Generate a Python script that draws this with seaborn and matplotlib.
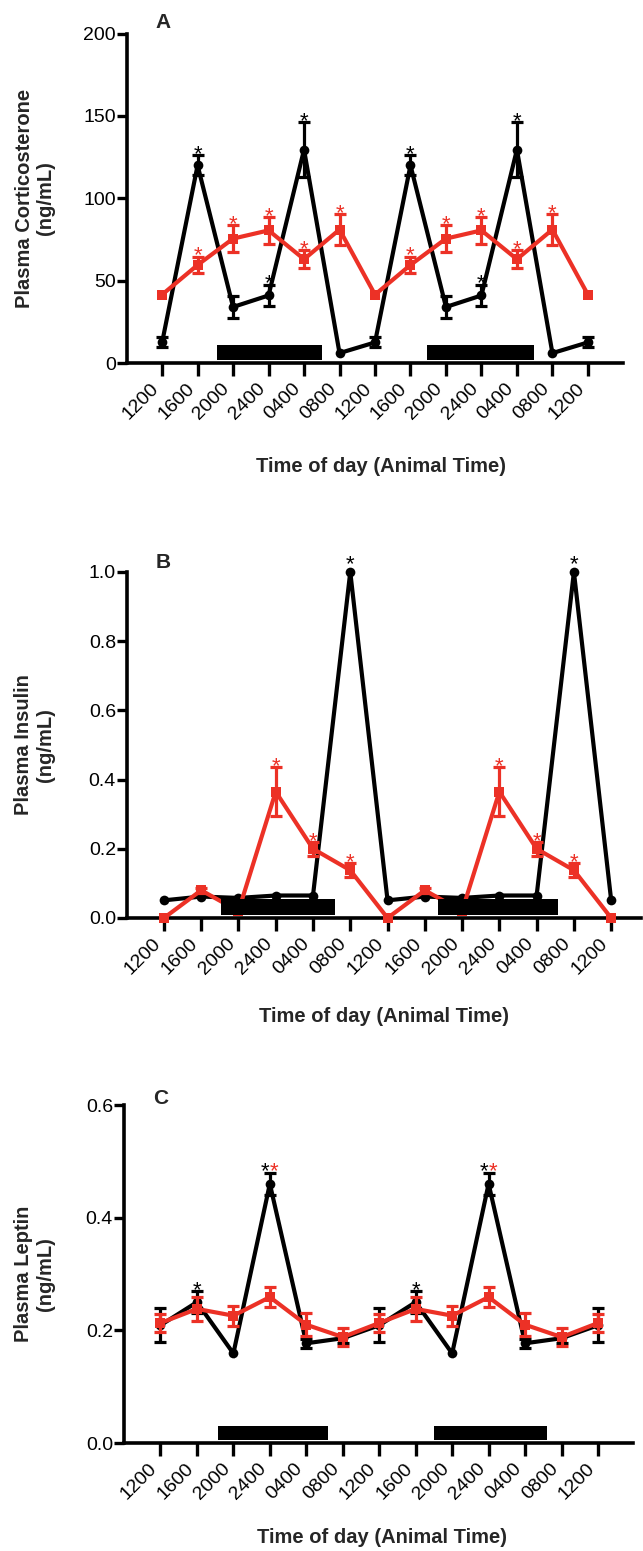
import matplotlib
matplotlib.use("Agg")
import matplotlib.pyplot as plt
import pandas as pd
import seaborn as sns

# ----------------------------------------------------
# Data
# ----------------------------------------------------
TIME_LABELS = ["1200", "1600", "2000", "2400", "0400", "0800", "1200",
               "1600", "2000", "2400", "0400", "0800", "1200"]

# A: corticosterone (ng/mL)
cort_black = [12.5, 120, 34, 41, 129.5, 6, 12.5, 120, 34, 41, 129.5, 6, 12.5]
cort_black_err = [3, 6, 6.5, 6.5, 16.5, 0, 3, 6, 6.5, 6.5, 16.5, 0, 3]
cort_red = [41.5, 59.5, 75.5, 80.5, 63, 81, 41.5, 59.5, 75.5, 80.5, 63, 81, 41.5]
cort_red_err = [0, 5, 8.3, 8, 5.5, 9.5, 0, 5, 8.3, 8, 5.5, 9.5, 0]
cort_black_stars = [1, 3, 4, 7, 9, 10]
cort_red_stars = [1, 2, 3, 4, 5, 7, 8, 9, 10, 11]
cort_dark = [(1.54, 4.5), (7.46, 10.48)]
cort_dark_y = (1.8, 10.9)

# B: insulin (ng/mL)
ins_black = [0.051, 0.062, 0.058, 0.065, 0.065, 1.0, 0.051, 0.062, 0.058, 0.065, 0.065, 1.0, 0.051]
ins_black_err = [0] * 13
ins_red = [0, 0.08, 0.02, 0.365, 0.2, 0.138, 0, 0.08, 0.02, 0.365, 0.2, 0.138, 0]
ins_red_err = [0, 0.008, 0, 0.07, 0.02, 0.02, 0, 0.008, 0, 0.07, 0.02, 0.02, 0]
ins_black_stars = [5, 11]
ins_red_stars = [3, 4, 5, 9, 10, 11]
ins_dark = [(1.52, 4.59), (7.35, 10.57)]
ins_dark_y = (0.01, 0.054)

# C: leptin (ng/mL)
lep_black = [0.209, 0.25, 0.159, 0.46, 0.177, 0.186, 0.209, 0.25, 0.159, 0.46, 0.177, 0.186, 0.209]
lep_black_err = [0.03, 0.02, 0, 0.02, 0.008, 0.008, 0.03, 0.02, 0, 0.02, 0.008, 0.008, 0.03]
lep_red = [0.213, 0.238, 0.226, 0.259, 0.21, 0.188, 0.213, 0.238, 0.226, 0.259, 0.21, 0.188, 0.213]
lep_red_err = [0.016, 0.021, 0.018, 0.018, 0.02, 0.016, 0.016, 0.021, 0.018, 0.018, 0.02, 0.016, 0.016]
lep_black_stars = [1, 7]
lep_pair_stars = [3, 9]
lep_dark = [(1.58, 4.59), (7.5, 10.6)]
lep_dark_y = (0.006, 0.031)

RED = "#EC3126"
W, H = 643, 1551


def px_axes(fig, left, right, top, bottom):
    return fig.add_axes([left / W, 1 - bottom / H, (right - left) / W, (bottom - top) / H])


def draw_series(ax, vals, errs, color, marker, ms, z):
    df = pd.DataFrame({"x": range(len(vals)), "y": vals})
    sns.lineplot(data=df, x="x", y="y", ax=ax, color=color, marker=marker,
                 markersize=ms, markeredgewidth=0, linewidth=3, zorder=z,
                 clip_on=False, solid_joinstyle="miter")
    xs = [i for i, e in enumerate(errs) if e > 0]
    ax.errorbar(xs, [vals[i] for i in xs], yerr=[errs[i] for i in xs], fmt="none",
                ecolor=color, elinewidth=2.3, capsize=4.5, capthick=2.3,
                zorder=z, clip_on=False)


def star(ax, x, y, color, dx=0, dy=-3.5):
    ax.annotate("*", (x, y), xytext=(dx, dy), textcoords="offset points",
                ha="center", va="baseline", fontsize=16, color=color,
                annotation_clip=False)


def style_axis(ax, xlim, ylim, yticks, ylabel, ylab_x, xlab_x, xlab_y):
    ax.set_xlim(*xlim)
    ax.set_ylim(*ylim)
    ax.set_yticks(yticks)
    ax.set_xticks(range(len(TIME_LABELS)))
    ax.set_xticklabels(TIME_LABELS, rotation=45, ha="right", fontsize=14)
    ax.tick_params(axis="y", labelsize=14, length=7, width=2.4, pad=1)
    ax.tick_params(axis="x", length=9, width=2.4, pad=3)
    sns.despine(ax=ax)
    for s in ("left", "bottom"):
        ax.spines[s].set_linewidth(2.6)
    ax.set_ylabel(ylabel, fontsize=14.5, fontweight="bold", va="center",
                  linespacing=1.15)
    ax.yaxis.set_label_coords(ylab_x, 0.5)
    ax.set_xlabel("Time of day (Animal Time)", fontsize=14.5, fontweight="bold",
                  va="center")
    ax.xaxis.set_label_coords(xlab_x, xlab_y)
    ax.grid(False)


def dark_bars(ax, spans, yr):
    for x0, x1 in spans:
        ax.fill_between([x0, x1], yr[0], yr[1], color="black", lw=0, zorder=6)


def main():
    sns.set_style("ticks")
    plt.rcParams["font.family"] = ["Liberation Sans", "DejaVu Sans"]
    plt.rcParams["axes.edgecolor"] = "black"
    plt.rcParams["xtick.color"] = "black"
    plt.rcParams["ytick.color"] = "black"

    fig = plt.figure(figsize=(W / 100, H / 100), dpi=100)

    # ---------------- A ----------------
    ax = px_axes(fig, 127, 623, 33.5, 363)
    draw_series(ax, cort_black, cort_black_err, "black", "o", 7, 3)
    draw_series(ax, cort_red, cort_red_err, RED, "s", 7.5, 4)
    dark_bars(ax, cort_dark, cort_dark_y)
    for i in cort_black_stars:
        star(ax, i, cort_black[i] + cort_black_err[i], "black")
    for i in cort_red_stars:
        star(ax, i, cort_red[i] + cort_red_err[i], RED)
    style_axis(ax, (-0.99, 12.99), (0, 200), [0, 50, 100, 150, 200],
               "Plasma Corticosterone\n(ng/mL)", -0.185, 0.512, -0.315)
    fig.text(163 / W, 1 - 22 / H, "A", fontsize=15, fontweight="bold",
             ha="center", va="center")

    # ---------------- B ----------------
    ax = px_axes(fig, 127, 641, 572, 918)
    draw_series(ax, ins_black, ins_black_err, "black", "o", 7, 3)
    draw_series(ax, ins_red, ins_red_err, RED, "s", 7.5, 4)
    dark_bars(ax, ins_dark, ins_dark_y)
    for i in ins_black_stars:
        star(ax, i, ins_black[i], "black", dy=1.5)
    for i in ins_red_stars:
        star(ax, i, ins_red[i] + ins_red_err[i], RED)
    style_axis(ax, (-0.99, 12.8), (0, 1.0), [0.0, 0.2, 0.4, 0.6, 0.8, 1.0],
               "Plasma Insulin\n(ng/mL)", -0.18, 0.5, -0.286)
    ax.yaxis.set_major_formatter(matplotlib.ticker.FormatStrFormatter("%.1f"))
    fig.text(163 / W, 1 - 562 / H, "B", fontsize=15, fontweight="bold",
             ha="center", va="center")

    # ---------------- C ----------------
    ax = px_axes(fig, 124, 633, 1105, 1443)
    draw_series(ax, lep_black, lep_black_err, "black", "o", 7, 3)
    draw_series(ax, lep_red, lep_red_err, RED, "s", 7.5, 4)
    dark_bars(ax, lep_dark, lep_dark_y)
    for i in lep_black_stars:
        star(ax, i, lep_black[i] + lep_black_err[i], "black")
    for i in lep_pair_stars:
        top = lep_black[i] + lep_black_err[i]
        star(ax, i, top, "black", dx=-3.3)
        star(ax, i, top, RED, dx=3.3)
    style_axis(ax, (-1.0, 12.96), (0, 0.6), [0.0, 0.2, 0.4, 0.6],
               "Plasma Leptin\n(ng/mL)", -0.176, 0.506, -0.28)
    ax.yaxis.set_major_formatter(matplotlib.ticker.FormatStrFormatter("%.1f"))
    fig.text(161 / W, 1 - 1098 / H, "C", fontsize=15, fontweight="bold",
             ha="center", va="center")

    fig.savefig("out.png", dpi=100)
    plt.close(fig)


if __name__ == "__main__":
    main()
